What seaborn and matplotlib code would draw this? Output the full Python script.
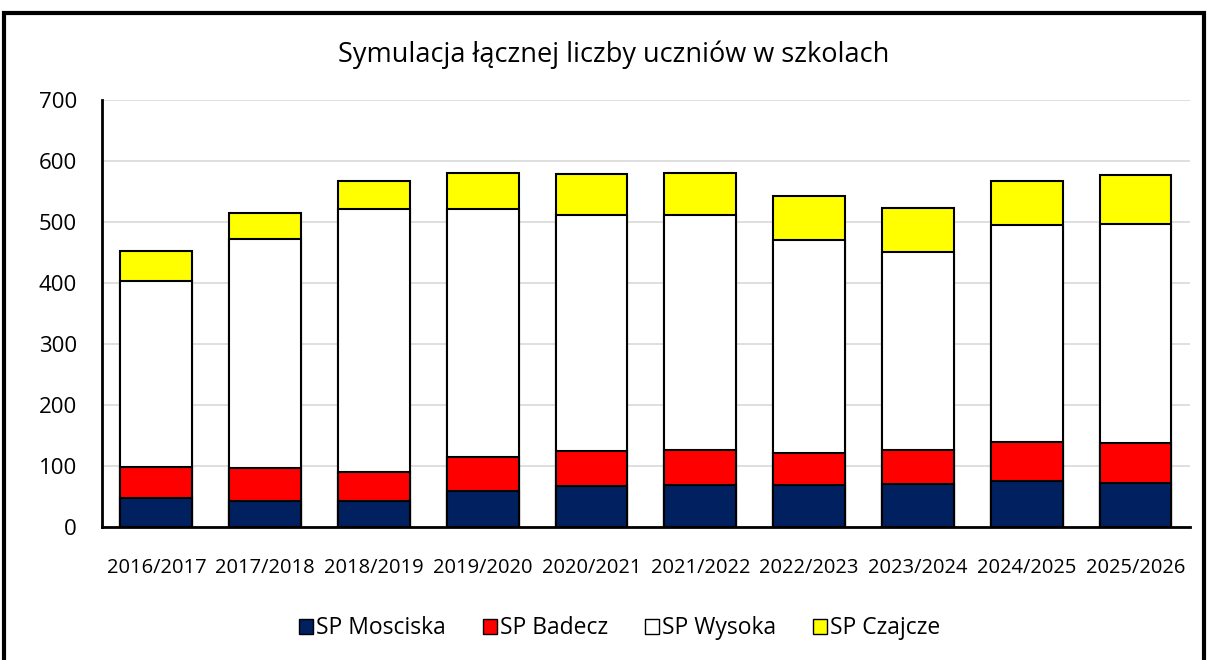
import matplotlib
matplotlib.use("Agg")
import matplotlib.pyplot as plt
import seaborn as sns
import numpy as np
import pandas as pd
from matplotlib.patches import Rectangle, Patch

years = ["2016/2017", "2017/2018", "2018/2019", "2019/2020", "2020/2021",
         "2021/2022", "2022/2023", "2023/2024", "2024/2025", "2025/2026"]
mosciska = [48, 43, 42, 59, 67, 69, 69, 71, 76, 72]
badecz = [51, 54, 48, 55, 58, 58, 53, 56, 64, 66]
wysoka = [305, 375, 432, 408, 387, 385, 348, 323, 355, 359]
czajcze = [48, 42, 46, 58, 66, 69, 72, 73, 72, 80]

series_names = ["SP Mosciska", "SP Badecz", "SP Wysoka", "SP Czajcze"]
series_vals = [mosciska, badecz, wysoka, czajcze]
colors = ["#002060", "#FF0000", "#FFFFFF", "#FFFF00"]

sns.set_theme(style="white")
plt.rcParams['font.family'] = ['Open Sans', 'DejaVu Sans']
plt.rcParams['text.color'] = 'black'

fig = plt.figure(figsize=(12.08, 6.6), dpi=100)
ax = fig.add_axes([0.0844, 0.2015, 0.9006, 0.647])

cum = np.cumsum(np.array(series_vals), axis=0)
for i in range(len(series_names) - 1, -1, -1):
    df = pd.DataFrame({"year": years, "value": cum[i]})
    sns.barplot(data=df, x="year", y="value", color=colors[i], saturation=1,
                edgecolor="black", linewidth=1.5, width=0.66, ax=ax, zorder=3)

ax.set_ylim(0, 700)
ax.set_yticks(range(0, 701, 100))
ax.set_xlim(-0.5, len(years) - 0.5)
ax.set_xlabel("")
ax.set_ylabel("")
ax.grid(axis="y", color="#d9d9d9", linewidth=1.2, zorder=0)
ax.set_axisbelow(True)
for s in ["top", "right"]:
    ax.spines[s].set_visible(False)
for s in ["left", "bottom"]:
    ax.spines[s].set_color("black")
    ax.spines[s].set_linewidth(2)
ax.tick_params(axis="y", labelsize=16, pad=18, length=0, colors="black")
ax.tick_params(axis="x", labelsize=14.5, pad=22, length=0, colors="black")

fig.text(0.508, 0.917, "Symulacja łącznej liczby uczniów w szkolach",
         ha="center", va="center", fontsize=19.5, color="black")

handles = [Patch(facecolor=c, edgecolor="black", linewidth=1) for c in colors]
leg = fig.legend(handles, series_names, loc="center", bbox_to_anchor=(0.513, 0.048),
                 ncol=4, frameon=False, fontsize=16.5, handlelength=0.6, handleheight=0.6,
                 handletextpad=0.15, columnspacing=1.6)
for t in leg.get_texts():
    t.set_color("black")

fig.patches.append(Rectangle((0.003, -0.01), 0.994, 0.99, transform=fig.transFigure,
                             fill=False, edgecolor="black", linewidth=3))

fig.savefig("out.png", dpi=100)
